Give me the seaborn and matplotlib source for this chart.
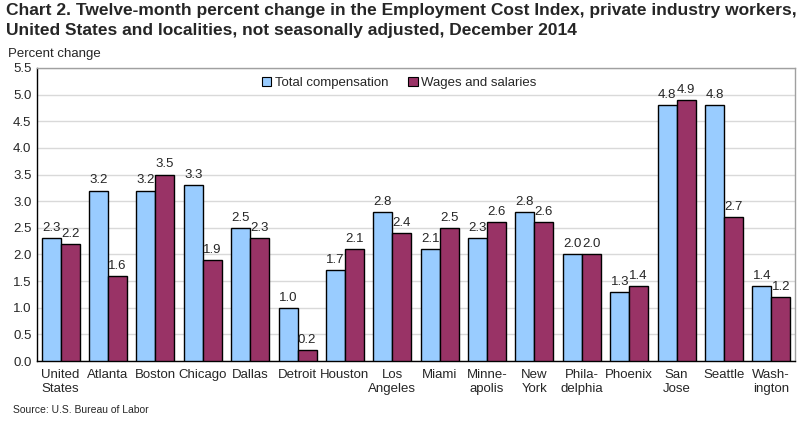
import matplotlib
matplotlib.use("Agg")
import matplotlib.pyplot as plt
import seaborn as sns
import pandas as pd

categories = ["United\nStates", "Atlanta", "Boston", "Chicago", "Dallas", "Detroit",
              "Houston", "Los\nAngeles", "Miami", "Minne-\napolis", "New\nYork",
              "Phila-\ndelphia", "Phoenix", "San\nJose", "Seattle", "Wash-\nington"]
total_comp = [2.3, 3.2, 3.2, 3.3, 2.5, 1.0, 1.7, 2.8, 2.1, 2.3, 2.8, 2.0, 1.3, 4.8, 4.8, 1.4]
wages = [2.2, 1.6, 3.5, 1.9, 2.3, 0.2, 2.1, 2.4, 2.5, 2.6, 2.6, 2.0, 1.4, 4.9, 2.7, 1.2]
series_names = ["Total compensation", "Wages and salaries"]
y_ticks = [0.0, 0.5, 1.0, 1.5, 2.0, 2.5, 3.0, 3.5, 4.0, 4.5, 5.0, 5.5]

sns.set_style("white")
plt.rcParams['font.family'] = ['Liberation Sans', 'DejaVu Sans']

df = pd.DataFrame({
    "city": categories * 2,
    "value": total_comp + wages,
    "series": [series_names[0]] * len(categories) + [series_names[1]] * len(categories),
})

fig = plt.figure(figsize=(8.07, 4.23), dpi=100)
ax = fig.add_axes([37 / 807, 1 - 361 / 423, (795 - 37) / 807, (361 - 68) / 423])

palette = {series_names[0]: "#99CCFF", series_names[1]: "#993366"}
sns.barplot(data=df, x="city", y="value", hue="series", palette=palette,
            edgecolor="black", linewidth=1.0, width=0.8, ax=ax, zorder=3,
            saturation=1)

for cont in ax.containers:
    ax.bar_label(cont, fmt="%.1f", padding=3, fontsize=9.5)

ax.set_xlim(-0.5, len(categories) - 0.5)
ax.set_ylim(0, 5.5)
ax.set_yticks(y_ticks)
ax.set_yticklabels([f"{t:.1f}" for t in y_ticks], fontsize=9.5)
ax.tick_params(axis="x", labelsize=9.5, length=0, pad=6)
ax.tick_params(axis="y", length=0, pad=4)
ax.yaxis.grid(True, color="#d9d9d9", linewidth=1.0, zorder=0)
ax.set_axisbelow(True)
ax.set_xlabel("")
ax.set_ylabel("")

for s in ["left", "bottom"]:
    ax.spines[s].set_color("black")
    ax.spines[s].set_linewidth(1.0)
for s in ["top", "right"]:
    ax.spines[s].set_color("#a0a0a0")
    ax.spines[s].set_linewidth(1.0)
    ax.spines[s].set_visible(True)

leg = ax.legend(loc="upper center", bbox_to_anchor=(0.478, 1.01), ncol=2, frameon=False,
                fontsize=9.5, handlelength=0.7, handleheight=0.7, handletextpad=0.3,
                columnspacing=1.5)
for h in leg.legend_handles:
    h.set_edgecolor("black")
    h.set_linewidth(0.8)

fig.text(6 / 807, 1 - 11 / 423, "Chart 2. Twelve-month percent change in the Employment Cost Index, private industry workers,",
         fontsize=12.5, fontweight="bold", va="center", ha="left")
fig.text(6 / 807, 1 - 30 / 423, "United States and localities, not seasonally adjusted, December 2014",
         fontsize=12.5, fontweight="bold", va="center", ha="left")
fig.text(8 / 807, 1 - 54 / 423, "Percent change", fontsize=9.5, va="center", ha="left")
fig.text(13 / 807, 1 - 410 / 423, "Source: U.S. Bureau of Labor", fontsize=7.5, va="center", ha="left")

fig.savefig("out.png", dpi=100)
